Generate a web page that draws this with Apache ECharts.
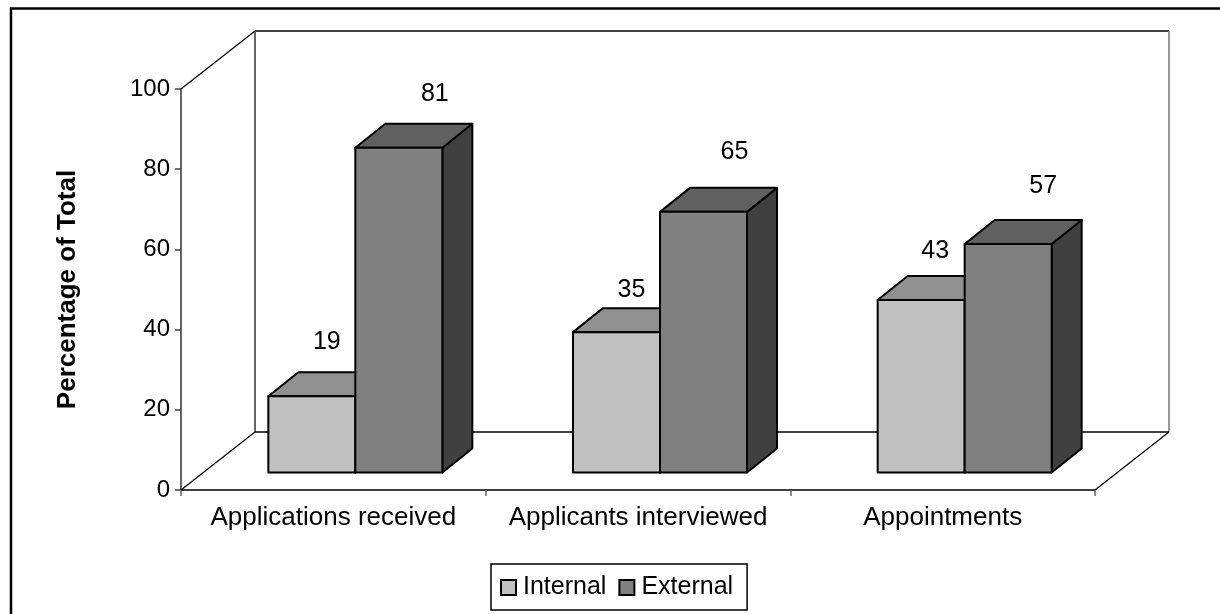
<!DOCTYPE html>
<html>
<head>
<meta charset="utf-8">
<style>html,body{margin:0;padding:0;background:#fff}#chart{width:1220px;height:614px}</style>
<script src="https://cdn.jsdelivr.net/npm/echarts@6/dist/echarts.min.js"></script>
</head>
<body>
<div id="chart"></div>
<script>
const categories = ['Applications received', 'Applicants interviewed', 'Appointments'];
const internalValues = [19, 35, 43];
const externalValues = [81, 65, 57];
const yTicks = [0, 20, 40, 60, 80, 100];

// Oblique projection of the plot box and of each column, in pixels
const WALL = { x: 74, y: -58 };
const FLOOR = { x: 22, y: -17.5 };
const DEPTH = { x: 30, y: -24 };
const BAR_W = 87;
const FONT = '"Liberation Sans", Arial, sans-serif';
const INK = '#000';

// Hand placement of the value labels relative to each column's top centre
const INTERNAL_LABEL_SHIFT = [[15, -54], [15, -42], [14, -49]];
const EXTERNAL_LABEL_SHIFT = [[36, -54], [31, -60], [35, -58]];

const chart = echarts.init(document.getElementById('chart'));

function poly(points, fill, lineWidth) {
  return {
    type: 'polygon',
    shape: { points },
    style: { fill, stroke: INK, lineWidth, lineJoin: 'round' }
  };
}

function seg(a, b, lineWidth, stroke) {
  return {
    type: 'line',
    shape: { x1: a[0], y1: a[1], x2: b[0], y2: b[1] },
    style: { stroke: stroke || INK, lineWidth }
  };
}

// Back wall, floor and the slanted edges joining them to the axes
function renderFrame(params, api) {
  if (params.dataIndex !== 0) return null;
  const cs = params.coordSys;
  const l = cs.x, r = cs.x + cs.width, t = cs.y, b = cs.y + cs.height;
  const dx = WALL.x, dy = WALL.y;
  return {
    type: 'group',
    silent: true,
    children: [
      seg([l, t], [l + dx, t + dy], 1.2),
      seg([l, b], [l + dx, b + dy], 1.2),
      seg([r, b], [r + dx, b + dy], 1.2),
      seg([l + dx, t + dy], [r + dx, t + dy], 1.5),
      seg([l + dx, t + dy], [l + dx, b + dy], 1.5, '#333'),
      seg([r + dx, t + dy], [r + dx, b + dy], 1.5, '#777'),
      seg([l + dx, b + dy], [r + dx, b + dy], 1.5)
    ]
  };
}

// One 3D column: side = -1 sits left of the category centre, side = 0 right of it
function columnRenderer(faces, side, labelShift) {
  return function (params, api) {
    const cat = api.value(0), val = api.value(1);
    const zero = api.coord([cat, 0]);
    const top = api.coord([cat, val]);
    const x0 = zero[0] + FLOOR.x + side * BAR_W;
    const x1 = x0 + BAR_W;
    const y0 = zero[1] + FLOOR.y;
    const y1 = top[1] + FLOOR.y;
    const dx = DEPTH.x, dy = DEPTH.y;
    const shift = labelShift[params.dataIndex];
    return {
      type: 'group',
      children: [
        poly([[x1, y1], [x1 + dx, y1 + dy], [x1 + dx, y0 + dy], [x1, y0]], faces.side, 2),
        poly([[x0, y1], [x0 + dx, y1 + dy], [x1 + dx, y1 + dy], [x1, y1]], faces.top, 2),
        poly([[x0, y1], [x1, y1], [x1, y0], [x0, y0]], faces.front, 2),
        {
          type: 'text',
          style: {
            x: (x0 + x1) / 2 + shift[0],
            y: y1 + shift[1],
            text: String(val),
            fill: INK,
            font: '25px ' + FONT,
            align: 'center',
            verticalAlign: 'middle'
          }
        }
      ]
    };
  };
}

const internalFaces = { front: '#c0c0c0', top: '#909090', side: '#606060' };
const externalFaces = { front: '#808080', top: '#606060', side: '#404040' };

chart.setOption({
  animation: false,
  backgroundColor: '#fff',
  graphic: [
    {
      type: 'polyline',
      silent: true,
      z: 0,
      shape: { points: [[11, 630], [11, 8.5], [1230, 8.5]] },
      style: { fill: null, stroke: INK, lineWidth: 2.5 }
    }
  ],
  grid: { left: 181, top: 89, width: 914, height: 401, containLabel: false },
  legend: {
    left: 491,
    top: 564,
    padding: [11, 14, 10, 9],
    itemGap: 12,
    itemWidth: 15,
    itemHeight: 15,
    itemStyle: { borderColor: INK, borderWidth: 2 },
    icon: 'rect',
    borderColor: INK,
    borderWidth: 1.5,
    backgroundColor: '#fff',
    data: ['Internal', 'External'],
    textStyle: { fontFamily: FONT, fontSize: 25, color: INK, padding: [0, 0, 0, 2] }
  },
  xAxis: {
    type: 'category',
    data: categories,
    boundaryGap: true,
    axisLine: { lineStyle: { color: INK, width: 1.5 } },
    axisTick: { show: true, alignWithLabel: false, length: 6, lineStyle: { color: '#666', width: 1.5 } },
    axisLabel: { color: INK, fontFamily: FONT, fontSize: 26, margin: 15, interval: 0 }
  },
  yAxis: {
    type: 'value',
    min: yTicks[0],
    max: yTicks[yTicks.length - 1],
    interval: yTicks[1] - yTicks[0],
    name: 'Percentage of Total',
    nameLocation: 'middle',
    nameGap: 100,
    nameRotate: 90,
    nameTextStyle: { color: INK, fontFamily: FONT, fontSize: 26, fontWeight: 'bold' },
    splitLine: { show: false },
    axisLine: { show: true, lineStyle: { color: '#333', width: 1.5 } },
    axisTick: { show: true, length: 6, lineStyle: { color: '#444', width: 1.5 } },
    axisLabel: { color: INK, fontFamily: FONT, fontSize: 24, margin: 11 }
  },
  series: [
    {
      type: 'custom',
      name: 'frame',
      silent: true,
      z: 1,
      renderItem: renderFrame,
      data: [[0, 0]],
      encode: { x: 0, y: 1 }
    },
    {
      type: 'custom',
      name: 'Internal',
      z: 2,
      itemStyle: { color: internalFaces.front, borderColor: INK, borderWidth: 2 },
      renderItem: columnRenderer(internalFaces, -1, INTERNAL_LABEL_SHIFT),
      data: internalValues.map((v, i) => [i, v]),
      encode: { x: 0, y: 1 }
    },
    {
      type: 'custom',
      name: 'External',
      z: 3,
      itemStyle: { color: externalFaces.front, borderColor: INK, borderWidth: 2 },
      renderItem: columnRenderer(externalFaces, 0, EXTERNAL_LABEL_SHIFT),
      data: externalValues.map((v, i) => [i, v]),
      encode: { x: 0, y: 1 }
    }
  ]
});
</script>
</body>
</html>
